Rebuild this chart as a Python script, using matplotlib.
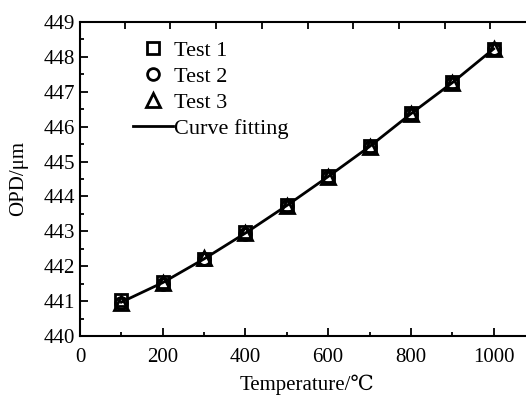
import numpy as np
import matplotlib
matplotlib.use("Agg")
import matplotlib.pyplot as plt
from matplotlib.ticker import MultipleLocator

plt.rcParams['font.family'] = ['Liberation Serif', 'DejaVu Serif', 'Noto Sans CJK SC']
plt.rcParams['mathtext.fontset'] = 'stix'

# data
temperature = [100, 200, 300, 400, 500, 600, 700, 800, 900, 1000]
test1 = [441.04, 441.54, 442.22, 442.97, 443.75, 444.58, 445.44, 446.38, 447.27, 448.24]
test2 = [440.94, 441.50, 442.20, 442.93, 443.72, 444.56, 445.42, 446.36, 447.25, 448.22]
test3 = [440.96, 441.53, 442.23, 442.96, 443.74, 444.57, 445.43, 446.37, 447.26, 448.23]
fit_values = [440.97, 441.53, 442.21, 442.95, 443.74, 444.57, 445.43, 446.37, 447.26, 448.23]

fig = plt.figure(figsize=(5.26, 3.97), dpi=100)
ax = fig.add_axes([80 / 526, 61 / 397, 455 / 526, 314 / 397])

mk = dict(linestyle='none', markerfacecolor='none', markeredgecolor='black',
          markeredgewidth=2.0)
ax.plot(temperature, test1, marker='s', markersize=8.5, label='Test 1', **mk)
ax.plot(temperature, test2, marker='o', markersize=8.5, label='Test 2', **mk)
ax.plot(temperature, test3, marker='^', markersize=10, label='Test 3', **mk)
ax.plot(temperature, fit_values, color='black', linewidth=2, label='Curve fitting')

ax.set_xlim(0, 1100)
ax.set_ylim(440, 449)
ax.xaxis.set_major_locator(MultipleLocator(200))
ax.xaxis.set_minor_locator(MultipleLocator(100))
ax.yaxis.set_major_locator(MultipleLocator(1))
ax.yaxis.set_minor_locator(MultipleLocator(0.5))
ax.tick_params(axis='both', which='both', direction='in', labelsize=15, top=False, right=False)
ax.tick_params(axis='both', which='major', length=6, width=1.3)
ax.tick_params(axis='both', which='minor', length=3, width=1.3)
ax.tick_params(axis='x', pad=9)

for s in ['left', 'bottom', 'top']:
    ax.spines[s].set_linewidth(1.5)
ax.spines['right'].set_visible(False)

top = ax.secondary_xaxis('top')
top.set_xticks([108 + 110.5 * i for i in range(9)])
top.tick_params(direction='in', length=5, width=1.3, labeltop=False)
top.spines['top'].set_visible(False)

ax.set_xlabel('Temperature/℃', fontsize=15, labelpad=5)
ax.set_ylabel('OPD/μm', fontsize=15, labelpad=11)

leg = ax.legend(loc='upper left', bbox_to_anchor=(0.097, 0.971), frameon=False,
                fontsize=16, handlelength=1.8, handletextpad=0.05, labelspacing=0.25,
                borderaxespad=0)

fig.savefig('out.png', dpi=100)
